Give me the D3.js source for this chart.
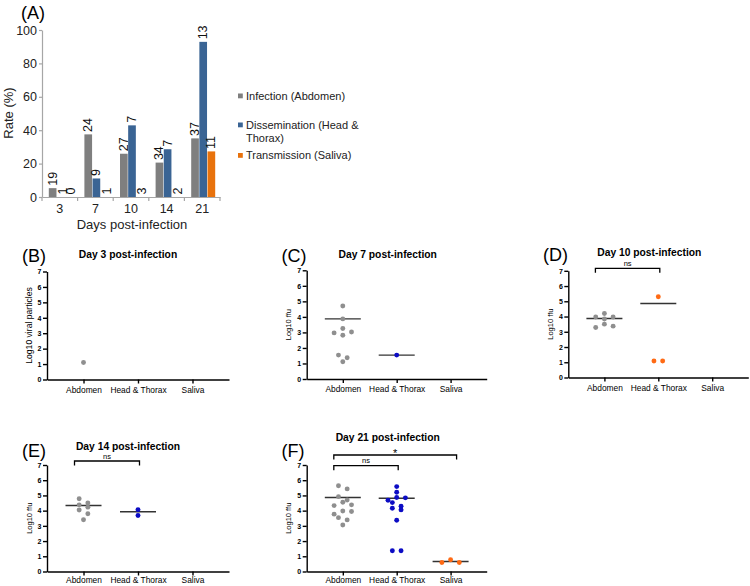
<!DOCTYPE html>
<html><head><meta charset="utf-8">
<script src="https://cdn.jsdelivr.net/npm/d3@7"></script>
<style>
body{margin:0;background:#fff}
svg{display:block}
text{font-family:"Liberation Sans",Arial,sans-serif}
</style>
</head><body>
<svg id="chart" width="750" height="586"></svg>
<script>
// ---------- DATA: panel A ----------
const days = ["3", "7", "10", "14", "21"];
const rateSeries = ["Infection (Abdomen)", "Dissemination (Head & Thorax)", "Transmission (Saliva)"];
const infectionRate = [5.3, 37.5, 25.9, 20.6, 35.1];
const disseminationRate = [0, 11.1, 42.9, 28.6, 92.9];
const transmissionRate = [0, 0, 0, 0, 27.3];
const infectionN = [19, 24, 27, 34, 37];
const disseminationN = [1, 9, 7, 7, 13];
const transmissionN = [0, 1, 3, 2, 11];
const rateTicks = [0, 20, 40, 60, 80, 100];

// ---------- DATA: panels B-F (log10 titres) ----------
const tissues = ["Abdomen", "Head & Thorax", "Saliva"];
const logTicks = [0, 1, 2, 3, 4, 5, 6, 7];

const day3Abdomen = [1.1];

const day7Abdomen = [4.7, 3.87, 3.25, 3.03, 2.97, 2.82, 1.54, 1.37, 1.11];
const day7Head = [1.54];
const day7Medians = [3.87, 1.54];

const day10Abdomen = [4.2, 3.97, 3.97, 3.84, 3.5, 3.37, 3.28];
const day10Head = [5.3, 1.08, 1.08];
const day10Medians = [3.87, 4.85];

const day14Abdomen = [4.78, 4.5, 4.38, 4.23, 4.04, 3.8, 3.4];
const day14Head = [4.06, 3.68];
const day14Medians = [4.34, 3.93];

const day21Abdomen = [5.64, 5.43, 4.92, 4.7, 4.55, 4.38, 4.33, 3.98, 3.94, 3.77, 3.54, 3.39, 3.06];
const day21Head = [5.58, 5.21, 4.86, 4.84, 4.68, 4.53, 4.29, 4.16, 4.05, 3.37, 1.36, 1.36];
const day21Saliva = [0.77, 0.59, 0.59];
const day21Medians = [4.86, 4.81, 0.66];

// ---------- STYLE ----------
const barColors = ["#7f7f7f", "#3a6494", "#e8720c"];
const dotGrey = "#8f8f8f", dotBlue = "#0c0cc4", dotOrange = "#ff6a14";

const svg = d3.select("#chart");

// ================= PANEL A =================
(function () {
  const g = svg.append("g");
  const x = d3.scaleBand().domain(days).range([42, 220]);
  const y = d3.scaleLinear().domain([0, 100]).range([197, 30]);
  const groupW = 24;
  const xi = d3.scaleBand().domain(rateSeries).range([0, groupW]).paddingInner(0.06);
  const rates = [infectionRate, disseminationRate, transmissionRate];
  const ns = [infectionN, disseminationN, transmissionN];
  const axisCol = "#a6a6a6";

  const ya = g.append("g").attr("transform", "translate(42,0)")
    .call(d3.axisLeft(y).tickValues(rateTicks).tickSize(3).tickSizeOuter(0).tickPadding(2));
  ya.select(".domain").attr("stroke", axisCol).attr("stroke-width", 1.2);
  ya.selectAll(".tick line").attr("stroke", axisCol).attr("stroke-width", 1.2);
  ya.selectAll("text").attr("font-size", 12.5).attr("fill", "#222");

  const xa = g.append("g").attr("transform", "translate(0,197)")
    .call(d3.axisBottom(x).tickSize(0).tickSizeOuter(0).tickPadding(7));
  xa.select(".domain").attr("stroke", axisCol).attr("stroke-width", 1.2);
  xa.selectAll("text").attr("font-size", 12.5).attr("fill", "#222");
  const bounds = days.map(d => x(d)).concat([x.range()[1]]);
  xa.selectAll("line.bnd").data(bounds).join("line").attr("class", "bnd")
    .attr("x1", d => d).attr("x2", d => d).attr("y1", 0).attr("y2", 4)
    .attr("stroke", axisCol).attr("stroke-width", 1.2);

  rateSeries.forEach((s, si) => {
    const bx = i => x(days[i]) + (x.bandwidth() - groupW) / 2 + 1 + xi(s);
    g.selectAll("rect.s" + si).data(rates[si]).join("rect").attr("class", "s" + si)
      .attr("x", (d, i) => bx(i)).attr("width", xi.bandwidth())
      .attr("y", d => y(d)).attr("height", d => y(0) - y(d))
      .attr("fill", barColors[si]);
    g.selectAll("text.l" + si).data(ns[si]).join("text").attr("class", "l" + si)
      .attr("transform", (d, i) => `translate(${bx(i) + xi.bandwidth() / 2 + (rates[si][i] === 0 ? 2 : 0)},${y(rates[si][i]) - 2.5}) rotate(-90)`)
      .attr("dominant-baseline", "central")
      .attr("font-size", 12.5).attr("fill", "#111").text(d => d);
  });

  g.append("text").attr("transform", "translate(8,113) rotate(-90)")
    .attr("text-anchor", "middle").attr("dominant-baseline", "central")
    .attr("font-size", 13).attr("fill", "#222").text("Rate (%)");
  g.append("text").attr("x", 132).attr("y", 229).attr("text-anchor", "middle")
    .attr("font-size", 13).attr("fill", "#222").text("Days post-infection");
  g.append("text").attr("x", 21).attr("y", 19).attr("font-family", "Lato, 'Open Sans', sans-serif")
    .attr("font-size", 18).text("(A)");

  const legY = [96, 125, 155.5];
  const leg = g.selectAll("g.leg").data(rateSeries).join("g").attr("class", "leg")
    .attr("transform", (d, i) => `translate(238,${legY[i]})`);
  leg.append("rect").attr("x", 0).attr("y", -2.5).attr("width", 4.8).attr("height", 4.8)
    .attr("fill", (d, i) => barColors[i]);
  leg.append("text").attr("x", 8).attr("font-size", 11).attr("fill", "#222")
    .each(function (d) {
      const t = d3.select(this);
      const words = d.split(" ");
      let line = [], lines = [];
      const tmp = t.append("tspan");
      words.forEach(w => {
        line.push(w);
        tmp.text(line.join(" "));
        if (tmp.node().getComputedTextLength() > 118 && line.length > 1) {
          line.pop(); lines.push(line.join(" ")); line = [w];
        }
      });
      lines.push(line.join(" "));
      tmp.remove();
      lines.forEach((l, k) => t.append("tspan").attr("x", 8).attr("dy", k === 0 ? "0.35em" : 13).text(l));
    });
})();

// ================= PANELS B-F =================
function swarm(vals, y, rowH, step) {
  const pts = vals.map(v => ({ v, py: y(v) })).sort((a, b) => a.py - b.py);
  const rows = [];
  let cur = null;
  pts.forEach(p => {
    if (!cur || p.py - cur.start >= rowH) { cur = { start: p.py, items: [] }; rows.push(cur); }
    cur.items.push(p);
  });
  rows.forEach(r => {
    const n = r.items.length;
    r.items.forEach((p, i) => {
      let k;
      if (n % 2) k = i === 0 ? 0 : (i % 2 ? (i + 1) / 2 : -i / 2);
      else { const m = Math.floor(i / 2) + 0.5; k = i % 2 ? m : -m; }
      p.dx = k * step;
    });
  });
  return pts;
}

function drawPanel(cfg) {
  const g = svg.append("g");
  const x = d3.scalePoint().domain(tissues).range([cfg.x0, cfg.x1]).padding(0.67);
  const y = d3.scaleLinear().domain([0, 7]).range([cfg.y0, cfg.y1]);

  const ya = g.append("g").attr("transform", `translate(${cfg.x0},0)`)
    .call(d3.axisLeft(y).tickValues(logTicks).tickSize(4).tickSizeOuter(0).tickPadding(1.5).tickFormat(d3.format("d")));
  ya.select(".domain").attr("stroke", "#000").attr("stroke-width", 1.4);
  ya.selectAll(".tick line").attr("stroke", "#000").attr("stroke-width", 1.4);
  ya.selectAll("text").attr("font-size", 7).attr("font-weight", "bold").attr("fill", "#000");

  const xa = g.append("g").attr("transform", `translate(0,${cfg.y0})`)
    .call(d3.axisBottom(x).tickSize(4).tickSizeOuter(0).tickPadding(cfg.tickPad));
  xa.select(".domain").attr("stroke", "#000").attr("stroke-width", 1.4);
  xa.selectAll(".tick line").attr("stroke", "#000").attr("stroke-width", 1.4);
  xa.selectAll("text").attr("font-size", 8.4).attr("fill", "#000");

  cfg.groups.forEach((grp, gi) => {
    if (grp.median == null) return;
    const cx = x(tissues[gi]);
    g.append("line").attr("x1", cx - 18).attr("x2", cx + 18)
      .attr("y1", y(grp.median)).attr("y2", y(grp.median))
      .attr("stroke", "#333").attr("stroke-width", 1.4);
  });
  cfg.groups.forEach((grp, gi) => {
    const cx = x(tissues[gi]);
    const pts = swarm(grp.values, y, 5, 8.7);
    g.selectAll(null).data(pts).join("circle")
      .attr("cx", d => cx + d.dx).attr("cy", d => d.py).attr("r", 2.45)
      .attr("fill", grp.color);
  });

  (cfg.brackets || []).forEach(b => {
    const xa1 = x(b.from) - 9, xb = x(b.to) + (b.to === "Saliva" ? 6 : 1.5);
    g.append("path").attr("d", `M${xa1},${b.y + 4.5}V${b.y}H${xb}V${b.y + 4.5}`)
      .attr("fill", "none").attr("stroke", "#000").attr("stroke-width", 1.3);
    g.append("text").attr("x", (xa1 + xb) / 2).attr("y", b.y - (b.label === "*" ? -2 : 2.5))
      .attr("text-anchor", "middle").attr("font-size", b.label === "*" ? 11 : 7.5)
      .attr("fill", "#000").text(b.label);
  });

  g.append("text").attr("x", cfg.x0 + 81).attr("y", cfg.titleY).attr("text-anchor", "middle")
    .attr("font-size", 10.3).attr("font-weight", "bold").attr("fill", "#000").text(cfg.title);
  g.append("text").attr("transform", `translate(${cfg.x0 - 18},${(cfg.y0 + cfg.y1) / 2}) rotate(-90)`)
    .attr("text-anchor", "middle").attr("dominant-baseline", "central")
    .attr("font-size", cfg.ylabSize).attr("fill", "#000").text(cfg.ylab);
  g.append("text").attr("x", cfg.labX).attr("y", cfg.labY)
    .attr("font-family", "Lato, 'Open Sans', sans-serif").attr("font-size", 18).text(cfg.label);
}

drawPanel({
  label: "(B)", labX: 22, labY: 262, title: "Day 3 post-infection", titleY: 257.5,
  x0: 47, x1: 229, y0: 379.5, y1: 271.5, ylab: "Log10 viral particles", ylabSize: 8.6, tickPad: 3.5,
  groups: [{ values: day3Abdomen, median: null, color: dotGrey }]
});
drawPanel({
  label: "(C)", labX: 281.5, labY: 262, title: "Day 7 post-infection", titleY: 257.5,
  x0: 306.7, x1: 486.7, y0: 379, y1: 270.3, ylab: "Log10 ffu", ylabSize: 7.5, tickPad: 3.5,
  groups: [{ values: day7Abdomen, median: day7Medians[0], color: dotGrey },
           { values: day7Head, median: day7Medians[1], color: dotBlue }]
});
drawPanel({
  label: "(D)", labX: 543, labY: 261, title: "Day 10 post-infection", titleY: 256,
  x0: 568.3, x1: 748.3, y0: 377.5, y1: 270.8, ylab: "Log10 ffu", ylabSize: 7.5, tickPad: 3.5,
  groups: [{ values: day10Abdomen, median: day10Medians[0], color: dotGrey },
           { values: day10Head, median: day10Medians[1], color: dotOrange }],
  brackets: [{ from: "Abdomen", to: "Head & Thorax", label: "ns", y: 268.3 }]
});
drawPanel({
  label: "(E)", labX: 22, labY: 457, title: "Day 14 post-infection", titleY: 449.5,
  x0: 47, x1: 229, y0: 571.5, y1: 465, ylab: "Log10 ffu", ylabSize: 7.5, tickPad: 2,
  groups: [{ values: day14Abdomen, median: day14Medians[0], color: dotGrey },
           { values: day14Head, median: day14Medians[1], color: dotBlue }],
  brackets: [{ from: "Abdomen", to: "Head & Thorax", label: "ns", y: 461 }]
});
drawPanel({
  label: "(F)", labX: 281.5, labY: 457, title: "Day 21 post-infection", titleY: 441,
  x0: 306.7, x1: 486.7, y0: 571.5, y1: 465, ylab: "Log10 ffu", ylabSize: 7.5, tickPad: 2,
  groups: [{ values: day21Abdomen, median: day21Medians[0], color: dotGrey },
           { values: day21Head, median: day21Medians[1], color: dotBlue },
           { values: day21Saliva, median: day21Medians[2], color: dotOrange }],
  brackets: [{ from: "Abdomen", to: "Saliva", label: "*", y: 455 },
             { from: "Abdomen", to: "Head & Thorax", label: "ns", y: 465.7 }]
});
</script>
</body></html>
